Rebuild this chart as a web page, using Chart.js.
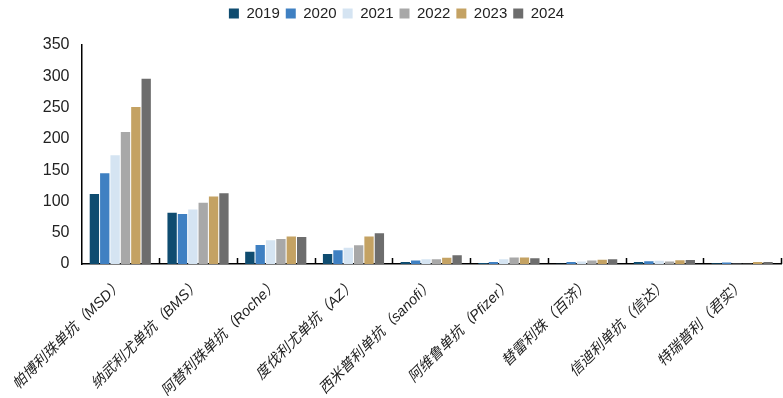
<!DOCTYPE html>
<html>
<head>
<meta charset="utf-8">
<script src="https://cdn.jsdelivr.net/npm/chart.js@4.4.1/dist/chart.umd.min.js"></script>
<style>
  html, body { margin: 0; padding: 0; background: #fff; }
  #wrap { width: 783px; height: 398px; }
</style>
</head>
<body>
<div id="wrap"><canvas id="chart" width="783" height="398"></canvas></div>
<script>
const categories = [
  "帕博利珠单抗（MSD）", "纳武利尤单抗（BMS）", "阿替利珠单抗（Roche）",
  "度伐利尤单抗（AZ）", "西米普利单抗（sanofi）", "阿维鲁单抗（Pfizer）",
  "替雷利珠（百济）", "信迪利单抗（信达）", "特瑞普利（君实）"
];
const years = ["2019", "2020", "2021", "2022", "2023", "2024"];
const v2019 = [112, 82, 19.5, 16, 3, 1.5, 0.5, 3, 1];
const v2020 = [145, 80, 30.5, 22, 5.5, 3, 3, 4.5, 2.5];
const v2021 = [174, 87, 38, 26, 7.5, 7.5, 4, 5, 0.3];
const v2022 = [211, 98, 40, 30, 7.5, 10.5, 5.5, 4, 0.5];
const v2023 = [251, 108, 44, 44, 10, 10.5, 6.8, 6, 3];
const v2024 = [296, 113, 43, 49, 14, 9, 7.5, 6.5, 3];
const yTicks = [0, 50, 100, 150, 200, 250, 300, 350];

const colors = ["#0f4c70", "#3f80c2", "#d5e4f2", "#a8a8a8", "#c4a263", "#6d6d6d"];
const series = [v2019, v2020, v2021, v2022, v2023, v2024];

const fontFamily = '"Liberation Sans", Arial, "Noto Sans CJK SC", sans-serif';

// extra gap under the legend
const legendGap = {
  id: "legendGap",
  beforeInit(chart) {
    const fit = chart.legend.fit;
    chart.legend.fit = function () {
      fit.bind(chart.legend)();
      this.height += 14;
    };
  }
};

// small tick marks between categories, pointing up from the x axis
const innerTicks = {
  id: "innerTicks",
  afterDatasetsDraw(chart) {
    const xs = chart.scales.x;
    const ctx = chart.ctx;
    const n = categories.length;
    const step = xs.width / n;
    ctx.save();
    ctx.strokeStyle = "#000";
    ctx.lineWidth = 1.5;
    ctx.beginPath();
    for (let i = 1; i <= n; i++) {
      const x = Math.round(xs.left + i * step) + 0.5;
      ctx.moveTo(x, xs.top);
      ctx.lineTo(x, xs.top - 6);
    }
    ctx.stroke();
    ctx.restore();
  }
};

new Chart(document.getElementById("chart"), {
  type: "bar",
  data: {
    labels: categories,
    datasets: years.map((y, i) => ({
      label: y,
      data: series[i],
      backgroundColor: colors[i],
      borderWidth: 0,
      barPercentage: 0.9,
      categoryPercentage: 0.8
    }))
  },
  options: {
    responsive: false,
    animation: false,
    layout: { padding: { left: 12, right: 2, top: 0, bottom: 2 } },
    plugins: {
      tooltip: { enabled: false },
      legend: {
        position: "top",
        labels: {
          boxWidth: 10,
          boxHeight: 10,
          padding: 6,
          color: "#222",
          font: { family: fontFamily, size: 15 }
        }
      }
    },
    scales: {
      x: {
        afterFit: (scale) => { scale.height = 132; },
        grid: { display: false, drawTicks: false },
        border: { display: true, color: "#000", width: 1.5 },
        ticks: {
          maxRotation: 45,
          minRotation: 45,
          padding: 12,
          color: "#222",
          font: { family: fontFamily, size: 14.5, style: "italic" }
        }
      },
      y: {
        min: 0,
        max: 350,
        afterBuildTicks: (axis) => { axis.ticks = yTicks.map(v => ({ value: v })); },
        grid: { display: false, drawTicks: false },
        border: { display: true, color: "#000", width: 1.5 },
        ticks: {
          padding: 12,
          color: "#222",
          font: { family: fontFamily, size: 16 }
        }
      }
    }
  },
  plugins: [legendGap, innerTicks]
});
</script>
</body>
</html>
